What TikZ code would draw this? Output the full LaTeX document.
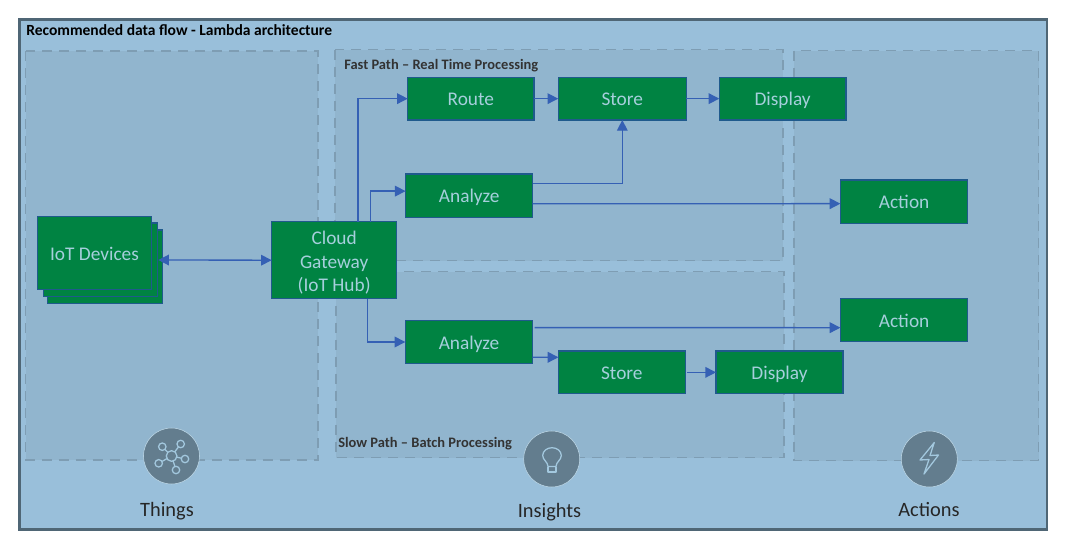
\documentclass[tikz,border=0pt]{standalone}
\usepackage{fontspec}
\setmainfont{Carlito}
\usetikzlibrary{arrows.meta}
\definecolor{panelbg}{HTML}{99BFDA}
\definecolor{zonebg}{HTML}{91B5CE}
\definecolor{frameline}{HTML}{4F6675}
\definecolor{dashline}{HTML}{7E9DB3}
\definecolor{boxgreen}{HTML}{008342}
\definecolor{boxline}{HTML}{1F5A8C}
\definecolor{boxtext}{HTML}{A6CFDC}
\definecolor{arrowblue}{HTML}{3560B4}
\definecolor{iconbg}{HTML}{637D8E}
\definecolor{iconline}{HTML}{A3C8DE}
\tikzset{
 x=0.75pt,y=-0.75pt,
 zone/.style={fill=zonebg,draw=dashline,line width=1.3pt,dash pattern=on 7.5pt off 5.25pt},
 flowbox/.style={draw=boxline,fill=boxgreen,line width=0.9pt,text=boxtext,font=\fontsize{14.5}{17.4}\selectfont,align=center,inner sep=0pt,outer sep=0pt,anchor=north west},
 flow/.style={draw=arrowblue,line width=1pt,-{Triangle[length=8pt,width=8pt]}},
 bothways/.style={draw=arrowblue,line width=1pt,{Triangle[length=8pt,width=8pt]}-{Triangle[length=8pt,width=8pt]}},
 zonetitle/.style={font=\bfseries\fontsize{10.85}{13}\selectfont,text=black!80,anchor=base west,inner sep=0pt},
 bottomlabel/.style={font=\fontsize{15.3}{18}\selectfont,text=black!85,inner sep=0pt,anchor=base},
 iconcircle/.style={circle,fill=iconbg,draw=iconline!70,line width=0.4pt,minimum size=42pt,inner sep=0pt},
 icon/.style={draw=iconline,line width=0.95pt,fill=none,line join=round}
}
\newcommand{\boxat}[6]{\node[flowbox,minimum width=#4*0.75pt,minimum height=#5*0.75pt] (#1) at (#2,#3) {\rule[-3.5pt]{0pt}{17.5pt}#6};}
\begin{document}
\begin{tikzpicture}
\useasboundingbox (0,0) rectangle (1075,543);
\fill[white] (0,0) rectangle (1075,543);
\draw[fill=panelbg,draw=frameline,line width=2.2pt] (19.5,19.5) rectangle (1047,529.5);
\node[font=\bfseries\fontsize{11.65}{14}\selectfont,anchor=base west,inner sep=0pt,text=black] (maintitle) at (26,35) {Recommended data flow - Lambda architecture};
\draw[zone] (25.5,51) rectangle (318,460);
\draw[zone] (335,49.5) rectangle (783,260.5);
\draw[zone] (336,271.5) rectangle (784,457.5);
\draw[zone] (794,50.5) rectangle (1038.5,460.5);
\node[zonetitle] (fastlabel) at (344,69) {Fast Path – Real Time Processing};
\node[zonetitle] (slowlabel) at (338,447) {Slow Path – Batch Processing};
\boxat{dev3}{47.3}{230}{115}{73.3}{}
\boxat{dev2}{43.3}{223}{114.4}{73.7}{}
\boxat{dev}{37.3}{216.7}{114.4}{72.6}{IoT Devices}
\boxat{gate}{271.7}{221.7}{125}{77}{Cloud\\Gateway\\(IoT Hub)}
\boxat{route}{407.7}{77.3}{126.3}{42.7}{Route}
\boxat{store1}{558.2}{77.3}{128.2}{42.7}{Store}
\boxat{disp1}{719.3}{77.3}{126.7}{42.7}{Display}
\boxat{an1}{405.6}{174}{127.1}{43.3}{Analyze}
\boxat{act1}{840.4}{180}{127.4}{43.3}{Action}
\boxat{act2}{840.4}{298.3}{127.4}{43.4}{Action}
\boxat{an2}{405.3}{320.3}{127.4}{43.4}{Analyze}
\boxat{store2}{558.4}{351}{126.9}{42.7}{Store}
\boxat{disp2}{716}{351}{127}{42.7}{Display}
\draw[bothways] ([xshift=-3pt,yshift=5pt]dev3.east) -- (gate.west);
\draw[flow] ([xshift=64.7pt]gate.north west) |- (route.west);
\draw[flow] ([xshift=74.1pt]gate.north west) |- ([yshift=3.4pt]an1.west);
\draw[flow] ([xshift=72pt]gate.south west) |- (an2.west);
\draw[flow] (route.east) -- (store1.west);
\draw[flow] (store1.east) -- (disp1.west);
\draw[flow] ([yshift=-7pt]an1.north east) -| (store1.south);
\draw[flow] ([yshift=-22.3pt]an1.north east) -- ([yshift=-1.5pt]act1.west);
\draw[flow] ([xshift=1.5pt,yshift=-5.5pt]an2.north east) -- ([yshift=-5.75pt]act2.west);
\draw[flow] ([yshift=-27.75pt]an2.north east) -- ([yshift=11.3pt]store2.west);
\draw[flow] ([xshift=1.5pt]store2.east) -- (disp2.west);
\node[iconcircle] (things) at (171.5,456) {};
\node[iconcircle] (insights) at (551.7,459) {};
\node[iconcircle] (actions) at (929.3,459) {};
% Things icon
\foreach \px/\py in {162.3/446.7,180.7/444,158.7/463.3,185/459,176/470}{
  \draw[icon] (171.6,456) -- (\px,\py);
}
\foreach \px/\py in {162.3/446.7,180.7/444,158.7/463.3,185/459,176/470}{
  \draw[icon,fill=iconbg] (\px,\py) circle[radius=2.8pt];
}
\draw[icon,fill=iconbg] (171.6,456) circle[radius=4pt];
% Insights icon
\draw[icon] (548,466.5) .. controls (548,462) and (542.7,460) .. (542.7,455.5) .. controls (542.7,451) and (547,447.7) .. (552,447.7) .. controls (557,447.7) and (561.3,451) .. (561.3,455.5) .. controls (561.3,460) and (556,462) .. (556,466.5) -- cycle;
\draw[icon] (548,466.5) -- (548,472) -- (556,472) -- (556,466.5);
% Actions icon
\draw[icon] (934.3,442.5) -- (920,460) -- (929,459.5) -- (924,474) -- (938.5,455) -- (930,455.5) -- cycle;
\node[bottomlabel] (thingstext) at (167,516) {Things};
\node[bottomlabel] (insightstext) at (549.5,517.3) {Insights};
\node[bottomlabel] (actionstext) at (929,516.7) {Actions};
\end{tikzpicture}
\end{document}
